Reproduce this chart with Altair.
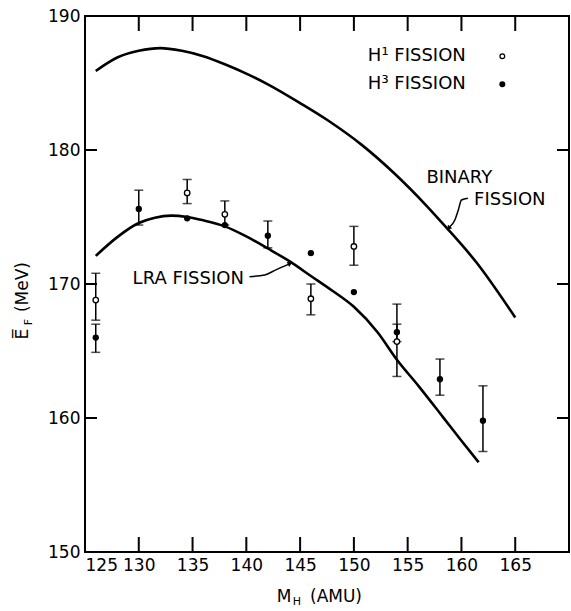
import altair as alt
import pandas as pd

# ---- data ----
binary_x = [126, 128, 130, 132, 134, 136, 138, 140, 142, 145, 147.6, 150.7, 153.7, 156.8, 158.5, 161.4, 165]
binary_y = [185.9, 186.9, 187.4, 187.6, 187.4, 187.0, 186.4, 185.7, 184.9, 183.5, 182.2, 180.4, 178.3, 175.8, 174.3, 171.6, 167.5]

lra_x = [126, 128, 130, 131.5, 133, 134.5, 136, 138, 140, 142, 144, 146, 148, 150, 152.2, 154, 156, 158.3, 160, 161.6]
lra_y = [172.1, 173.5, 174.55, 174.95, 175.1, 175.0, 174.75, 174.3, 173.55, 172.65, 171.7, 170.6, 169.5, 168.3, 166.4, 164.35, 162.4, 160.05, 158.3, 156.7]

h1_x = [126, 134.5, 138, 146, 150, 154]
h1_y = [168.8, 176.8, 175.2, 168.9, 172.8, 165.7]

h3_x = [126, 130, 134.5, 138, 142, 146, 150, 154, 158, 162]
h3_y = [166.0, 175.6, 174.9, 174.4, 173.6, 172.3, 169.4, 166.4, 162.9, 159.8]

err_x = [126, 126, 130, 134.5, 138, 142, 146, 150, 154, 154, 158, 162]
err_lo = [167.3, 164.9, 174.4, 176.0, 174.4, 172.7, 167.7, 171.4, 163.1, 165.7, 161.7, 157.5]
err_hi = [170.8, 167.0, 177.0, 177.8, 176.2, 174.7, 170.0, 174.3, 167.0, 168.5, 164.4, 162.4]

x_ticks = [125, 130, 135, 140, 145, 150, 155, 160, 165]
y_ticks = [150, 160, 170, 180, 190]
inner_x_ticks = [130, 135, 140, 145, 150, 155, 160, 165]
inner_y_ticks = [160, 170, 180]

FONT = "DejaVu Sans"
W, H = 484, 536
XMIN, XMAX, YMIN, YMAX = 125, 170, 150, 190
TX = 12 * (XMAX - XMIN) / W   # inward tick length (12 px) in x units
TY = 15 * (YMAX - YMIN) / H   # inward tick length (15 px) in y units

binary_df = pd.DataFrame({"x": binary_x, "y": binary_y})
lra_df = pd.DataFrame({"x": lra_x, "y": lra_y})
h1_df = pd.DataFrame({"x": h1_x, "y": h1_y})
h3_df = pd.DataFrame({"x": h3_x, "y": h3_y})
err_df = pd.DataFrame({"x": err_x, "lo": err_lo, "hi": err_hi})
cap_df = pd.DataFrame({"x": err_x + err_x, "y": err_lo + err_hi})

vt_df = pd.DataFrame({
    "x": inner_x_ticks + inner_x_ticks,
    "lo": [YMIN] * len(inner_x_ticks) + [YMAX - TY] * len(inner_x_ticks),
    "hi": [YMIN + TY] * len(inner_x_ticks) + [YMAX] * len(inner_x_ticks),
})
ht_df = pd.DataFrame({
    "y": inner_y_ticks + inner_y_ticks,
    "lo": [XMIN] * len(inner_y_ticks) + [XMAX - TX] * len(inner_y_ticks),
    "hi": [XMIN + TX] * len(inner_y_ticks) + [XMAX] * len(inner_y_ticks),
})

xs = alt.Scale(domain=[XMIN, XMAX], nice=False, zero=False)
ys = alt.Scale(domain=[YMIN, YMAX], nice=False, zero=False)

X = lambda f="x": alt.X(f"{f}:Q", scale=xs, axis=None)
Y = lambda f="y": alt.Y(f"{f}:Q", scale=ys, axis=None)

binary = alt.Chart(binary_df).mark_line(color="black", strokeWidth=2.6, interpolate="monotone").encode(
    x=alt.X("x:Q", scale=xs, axis=alt.Axis(
        orient="bottom", values=x_ticks, offset=-15, tickSize=15, tickOpacity=0, domain=False, grid=False,
        labelPadding=5, title=None, labelFont=FONT, labelFontSize=17, labelColor="black", format="d")),
    y=alt.Y("y:Q", scale=ys, axis=alt.Axis(
        orient="left", values=y_ticks, offset=-12, tickSize=12, tickOpacity=0, domain=False, grid=False,
        labelPadding=5, title=None, labelFont=FONT, labelFontSize=17, labelColor="black", format="d")),
)

lra = alt.Chart(lra_df).mark_line(color="black", strokeWidth=2.6, interpolate="monotone").encode(x=X(), y=Y())

err = alt.Chart(err_df).mark_rule(color="black", strokeWidth=1.5).encode(x=X(), y=Y("lo"), y2="hi")
caps = alt.Chart(cap_df).mark_tick(color="black", thickness=1.5, size=9, orient="horizontal").encode(x=X(), y=Y())

h3 = alt.Chart(h3_df).mark_point(filled=True, color="black", size=40, opacity=1).encode(x=X(), y=Y())
h1 = alt.Chart(h1_df).mark_point(shape="circle", fill="white", stroke="black", strokeWidth=1.3,
                                   size=30, opacity=1, fillOpacity=1).encode(x=X(), y=Y())

# inward frame ticks on all four sides
vticks = alt.Chart(vt_df).mark_rule(color="black", strokeWidth=2).encode(x=X(), y=Y("lo"), y2="hi")
hticks = alt.Chart(ht_df).mark_rule(color="black", strokeWidth=2).encode(y=Y(), x=X("lo"), x2="hi")

# annotations (in data coordinates)
ann_df = pd.DataFrame({
    "x": [159.8, 164.5, 134.6],
    "y": [177.9, 176.3, 170.4],
    "t": ["BINARY", "FISSION", "LRA FISSION"],
})
ann = alt.Chart(ann_df).mark_text(font=FONT, fontSize=18, color="black").encode(x=X(), y=Y(), text="t:N")

arrow1_df = pd.DataFrame({"x": [160.6, 160.0, 159.7, 159.4, 158.9], "y": [176.4, 176.27, 175.5, 174.8, 174.25], "o": [0, 1, 2, 3, 4]})
arrow2_df = pd.DataFrame({"x": [140.3, 141.7, 142.7, 144.0], "y": [170.55, 170.67, 171.04, 171.5], "o": [0, 1, 2, 3]})
arr1 = alt.Chart(arrow1_df).mark_line(color="black", strokeWidth=1.5, interpolate="monotone").encode(x=X(), y=Y(), order="o:Q")
arr2 = alt.Chart(arrow2_df).mark_line(color="black", strokeWidth=1.5, interpolate="monotone").encode(x=X(), y=Y(), order="o:Q")
head_df = pd.DataFrame({"x": [158.85, 144.0], "y": [174.2, 171.5], "a": [220, 65]})
heads = alt.Chart(head_df).mark_point(shape="triangle", filled=True, color="black", size=30, opacity=1).encode(
    x=X(), y=Y(), angle=alt.Angle("a:Q", scale=None))

# legend
leg_df = pd.DataFrame({"x": [151.3, 151.3], "y": [187.0, 184.9], "t": ["H¹ FISSION", "H³ FISSION"]})
leg_text = alt.Chart(leg_df).mark_text(font=FONT, fontSize=18, color="black", align="left").encode(x=X(), y=Y(), text="t:N")
leg_open = alt.Chart(pd.DataFrame({"x": [163.8], "y": [187.0]})).mark_point(
    shape="circle", fill="white", stroke="black", strokeWidth=1.3, size=22, opacity=1, fillOpacity=1).encode(x=X(), y=Y())
leg_fill = alt.Chart(pd.DataFrame({"x": [163.8], "y": [184.9]})).mark_point(
    filled=True, color="black", size=36, opacity=1).encode(x=X(), y=Y())

# axis titles with sub/superscripts
t_df = pd.DataFrame({"a": [0]})
def txt(s, px, py, size=17, angle=0):
    return alt.Chart(t_df).mark_text(text=s, font=FONT, fontSize=size, color="black", angle=angle).encode(
        x=alt.value(px), y=alt.value(py))

xt1 = txt("M", 284 - 85, 597 - 16)
xt2 = txt("H", 297 - 85, 602 - 16, size=11)
xt3 = txt("(AMU)", 336 - 85, 597 - 16)
yt1 = txt("E\u0305", 23 - 85, 334 - 16, angle=270)
yt2 = txt("F", 29 - 85, 322 - 16, size=11, angle=270)
yt3 = txt("(MeV)", 23 - 85, 287 - 16, angle=270)

chart = alt.layer(
    binary, lra, err, caps, h3, h1, vticks, hticks,
    ann, arr1, arr2, heads, leg_text, leg_open, leg_fill,
    xt1, xt2, xt3, yt1, yt2, yt3,
).resolve_axis(x="independent", y="independent").properties(
    width=W, height=H,
    autosize=alt.AutoSizeParams(type="none"),
    padding={"left": 85, "top": 16, "right": 2, "bottom": 59},
    background="white",
).configure_view(stroke="black", strokeWidth=2)

chart.save("out.html", embed_options={"renderer": "svg", "actions": False})
